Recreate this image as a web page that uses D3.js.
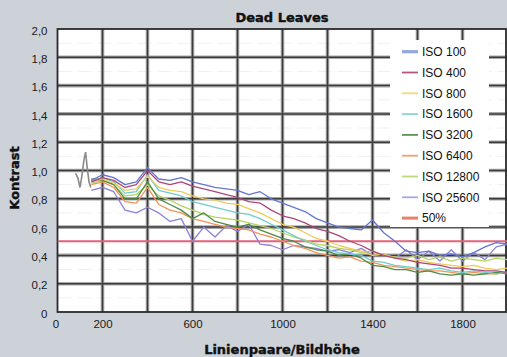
<!DOCTYPE html>
<html>
<head>
<meta charset="utf-8">
<script src="https://cdn.jsdelivr.net/npm/d3@7/dist/d3.min.js"></script>
<style>
  html, body { margin: 0; padding: 0; background: #cdd2d9; }
  svg { display: block; }
  .tick text { font-family: "Liberation Sans", Arial, sans-serif; font-size: 11.5px; fill: #1a1a1a; }
</style>
</head>
<body>
<svg id="chart" width="507" height="357"></svg>
<script>
// Dead-leaves contrast per ISO setting, sampled every 50 line pairs
const freqs = d3.range(150, 2001, 50);
const seriesNames = ["ISO 100", "ISO 400", "ISO 800", "ISO 1600", "ISO 3200", "ISO 6400", "ISO 12800", "ISO 25600"];
const iso100   = [0.93,0.97,0.95,0.90,0.92,1.02,0.94,0.93,0.95,0.92,0.90,0.88,0.87,0.86,0.83,0.85,0.80,0.77,0.74,0.71,0.66,0.63,0.60,0.59,0.58,0.65,0.56,0.50,0.43,0.42,0.43,0.40,0.41,0.39,0.42,0.46,0.49,0.48];
const iso400   = [0.92,0.95,0.93,0.88,0.90,1.00,0.92,0.90,0.92,0.89,0.87,0.85,0.83,0.81,0.78,0.77,0.72,0.68,0.66,0.63,0.59,0.57,0.54,0.50,0.47,0.43,0.40,0.38,0.37,0.35,0.34,0.33,0.31,0.31,0.30,0.29,0.29,0.28];
const iso800   = [0.92,0.94,0.91,0.86,0.87,0.96,0.88,0.86,0.85,0.82,0.80,0.79,0.77,0.76,0.73,0.70,0.66,0.62,0.60,0.56,0.52,0.50,0.47,0.45,0.43,0.40,0.41,0.38,0.36,0.37,0.35,0.34,0.33,0.32,0.33,0.31,0.30,0.31];
const iso1600  = [0.93,0.95,0.92,0.84,0.85,0.97,0.86,0.84,0.82,0.78,0.76,0.74,0.72,0.70,0.69,0.66,0.62,0.58,0.54,0.50,0.47,0.44,0.42,0.41,0.40,0.36,0.35,0.33,0.32,0.31,0.30,0.31,0.29,0.28,0.29,0.28,0.27,0.28];
const iso3200  = [0.94,0.93,0.90,0.80,0.80,0.92,0.80,0.76,0.72,0.66,0.70,0.64,0.62,0.60,0.62,0.58,0.55,0.52,0.50,0.46,0.44,0.43,0.40,0.41,0.38,0.33,0.32,0.30,0.30,0.28,0.29,0.27,0.26,0.27,0.26,0.27,0.28,0.27];
const iso6400  = [0.90,0.92,0.88,0.78,0.77,0.88,0.76,0.72,0.70,0.66,0.64,0.62,0.60,0.59,0.58,0.55,0.53,0.50,0.47,0.45,0.42,0.40,0.38,0.39,0.36,0.35,0.33,0.32,0.31,0.30,0.29,0.29,0.28,0.27,0.28,0.27,0.27,0.28];
const iso12800 = [0.91,0.93,0.90,0.82,0.83,0.90,0.82,0.79,0.75,0.72,0.69,0.67,0.66,0.65,0.63,0.61,0.59,0.56,0.53,0.51,0.48,0.47,0.45,0.44,0.42,0.43,0.40,0.39,0.38,0.40,0.37,0.39,0.36,0.38,0.37,0.36,0.38,0.37];
const iso25600 = [0.86,0.88,0.85,0.72,0.70,0.74,0.70,0.64,0.66,0.50,0.60,0.53,0.61,0.57,0.62,0.48,0.47,0.44,0.47,0.46,0.45,0.43,0.44,0.42,0.45,0.40,0.41,0.38,0.44,0.37,0.43,0.36,0.44,0.36,0.42,0.37,0.46,0.48];
const seriesValues = [iso100, iso400, iso800, iso1600, iso3200, iso6400, iso12800, iso25600];
const seriesColors = ["#6476cf", "#ad4678", "#f0cb5c", "#70cbcb", "#4f8b47", "#f2935a", "#b3d463", "#8b80d8"];
const legendColors = ["#93a8dc", "#b8527e", "#f5d67a", "#8fd4d4", "#5f9257", "#f4a06e", "#bcd97c", "#a9a6e0"];

// short grey reference trace at the low-frequency end
const refFreqs  = [80, 90, 100, 110, 118, 125, 132, 140, 148];
const refValues = [0.98, 0.95, 0.88, 0.98, 1.08, 1.13, 1.02, 0.92, 0.88];

const halfLevel = 0.5;
const xTickLabels = [0, 200, 600, 1000, 1400, 1800];
const yTicks = d3.range(0, 2.0001, 0.2);

const svg = d3.select("#chart");
const W = 507, H = 357;
const pL = 57.5, pR = 507.5, pT = 29, pB = 312;

const x = d3.scaleLinear().domain([0, 2000]).range([pL, pR]);
const y = d3.scaleLinear().domain([0, 2]).range([pB, pT]);

svg.append("rect").attr("width", W).attr("height", H).attr("fill", "#cdd2d9");
svg.append("rect").attr("x", pL).attr("y", pT).attr("width", pR - pL).attr("height", pB - pT).attr("fill", "#ffffff");

svg.append("defs").append("clipPath").attr("id", "plot")
  .append("rect").attr("x", pL).attr("y", pT).attr("width", pR - pL).attr("height", pB - pT);

const grid = svg.append("g");
// very faint minor grid
grid.selectAll(".minor-h").data(d3.range(0.1, 2, 0.2)).join("line")
  .attr("x1", pL).attr("x2", pR).attr("y1", d => y(d)).attr("y2", d => y(d))
  .attr("stroke", "#f0f0f0").attr("stroke-width", 1).attr("stroke-dasharray", "14 6");
// major grid: soft halo plus dark core
const vLines = d3.range(200, 2000, 200);
const hLines = yTicks.filter(d => d > 0.01 && d < 1.99);
[["#a8a8a8", 3.6], ["#3c3c3c", 1.5]].forEach(([c, w]) => {
  grid.append("g").selectAll("line").data(vLines).join("line")
    .attr("x1", d => x(d)).attr("x2", d => x(d)).attr("y1", pT).attr("y2", pB)
    .attr("stroke", c).attr("stroke-width", w);
  grid.append("g").selectAll("line").data(hLines).join("line")
    .attr("x1", pL).attr("x2", pR).attr("y1", d => y(d)).attr("y2", d => y(d))
    .attr("stroke", c).attr("stroke-width", w);
});

// plot frame
svg.append("rect").attr("x", pL).attr("y", pT).attr("width", pR - pL - 1.5).attr("height", pB - pT)
  .attr("fill", "none").attr("stroke", "#2a2a2a").attr("stroke-width", 1.8);

const line = d3.line().x(d => x(d[0])).y(d => y(d[1]));
const lines = svg.append("g").attr("clip-path", "url(#plot)");

lines.append("path")
  .datum(refFreqs.map((f, i) => [f, refValues[i]]))
  .attr("d", line).attr("fill", "none").attr("stroke", "#8a8a8a").attr("stroke-width", 1.6);

lines.append("line")
  .attr("x1", pL).attr("x2", pR).attr("y1", y(halfLevel)).attr("y2", y(halfLevel))
  .attr("stroke", "#e2627a").attr("stroke-width", 1.8);

// draw noisiest series first so the cleaner ones stay on top
const order = [7, 6, 5, 4, 3, 2, 1, 0];
order.forEach(i => {
  lines.append("path")
    .datum(freqs.map((f, j) => [f, seriesValues[i][j]]))
    .attr("d", line).attr("fill", "none")
    .attr("stroke", seriesColors[i]).attr("stroke-width", 1.3)
    .attr("stroke-linejoin", "round");
});

// axes
const yAxis = d3.axisLeft(y).tickValues(yTicks).tickSize(0).tickPadding(10)
  .tickFormat(d => d < 0.001 ? "0" : d3.format(".1f")(d).replace(".", ","));
const gy = svg.append("g").attr("transform", `translate(${pL},0)`).call(yAxis);
gy.select(".domain").remove();
gy.selectAll(".tick text").attr("dy", "0.45em");

const xAxis = d3.axisBottom(x).tickValues(xTickLabels).tickSize(0).tickPadding(8).tickFormat(d3.format("d"));
const gx = svg.append("g").attr("transform", `translate(0,${pB})`).call(xAxis);
gx.select(".domain").remove();
gx.selectAll(".tick text").filter(d => d === 0).attr("dx", "-2");

// titles
const boldFont = "'DejaVu Sans', Verdana, sans-serif";
svg.append("text").attr("x", 282).attr("y", 22).attr("text-anchor", "middle")
  .attr("font-family", boldFont).attr("font-weight", "bold").attr("font-size", 13).attr("fill", "#111")
  .attr("stroke", "#111").attr("stroke-width", 0.4)
  .text("Dead Leaves");
svg.append("text").attr("x", 282).attr("y", 354).attr("text-anchor", "middle")
  .attr("font-family", boldFont).attr("font-weight", "bold").attr("font-size", 13).attr("fill", "#111")
  .attr("stroke", "#111").attr("stroke-width", 0.4)
  .text("Linienpaare/Bildhöhe");
svg.append("text").attr("transform", "translate(19,178) rotate(-90)").attr("text-anchor", "middle")
  .attr("font-family", boldFont).attr("font-weight", "bold").attr("font-size", 13).attr("fill", "#111")
  .attr("stroke", "#111").attr("stroke-width", 0.4)
  .text("Kontrast");

// legend
const legendItems = seriesNames.map((n, i) => ({ name: n, color: legendColors[i], w: i === 0 ? 3.2 : 1.8 }))
  .concat([{ name: "50%", color: "#e8806e", w: 3 }]);
const lg = svg.append("g");
lg.append("rect").attr("x", 390).attr("y", 40).attr("width", 99).attr("height", 187).attr("fill", "#fff");
const li = lg.selectAll("g").data(legendItems).join("g")
  .attr("transform", (d, i) => `translate(0,${51.7 + i * 20.8})`);
li.append("line").attr("x1", 402).attr("x2", 418).attr("y1", 0).attr("y2", 0)
  .attr("stroke", d => d.color).attr("stroke-width", d => d.w);
li.append("text").attr("x", 422).attr("y", 0).attr("dy", "0.36em")
  .attr("font-family", "'Liberation Sans', Arial, sans-serif")
  .attr("font-size", 12).attr("fill", "#111").text(d => d.name);
</script>
</body>
</html>
